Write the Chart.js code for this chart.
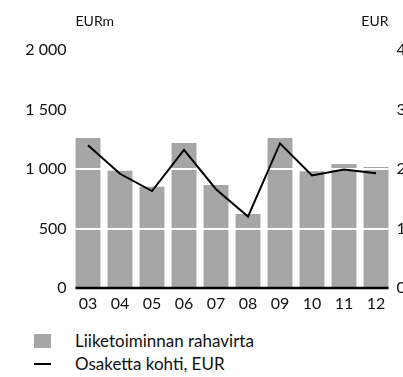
<!DOCTYPE html>
<html lang="fi">
<head>
<meta charset="utf-8">
<script src="https://cdn.jsdelivr.net/npm/chart.js@4/dist/chart.umd.min.js"></script>
<style>
  html, body { margin: 0; padding: 0; background: #fff; overflow: hidden; }
  body { width: 403px; height: 377px; position: relative; font-family: Lato, sans-serif; }
  #wrap { position: absolute; left: 0; top: 0; width: 412px; height: 318px; }
  .legend { position: absolute; left: 34px; top: 329px; font-size: 17px; color: #111; }
  .legend-row { display: flex; align-items: center; height: 23px; }
  .legend-key { width: 17px; margin-right: 24px; }
  .legend-key.box { height: 14px; background: #a6a6a6; }
  .legend-key.line { height: 2px; background: #000; }
</style>
</head>
<body>
<div id="wrap"><canvas id="chart"></canvas></div>
<div class="legend" id="legend"></div>
<script>
// Cash flow from operations (EURm) and per-share figure (EUR), 2003-2012
const years = ['03', '04', '05', '06', '07', '08', '09', '10', '11', '12'];
const cashFlow = [1260, 985, 850, 1218, 866, 622, 1260, 981, 1042, 1017];
const perShare = [2.40, 1.92, 1.63, 2.32, 1.66, 1.20, 2.43, 1.89, 1.99, 1.93];
const leftTicks = [0, 500, 1000, 1500, 2000];
const rightTicks = [0, 1, 2, 3, 4];
const seriesNames = ['Liiketoiminnan rahavirta', 'Osaketta kohti, EUR'];

const BAR_GREY = '#a6a6a6';
const FONT = 'Lato, sans-serif';

function fmtThousands(v) {
  return String(v).replace(/\B(?=(\d{3})+(?!\d))/g, ' ');
}

// outer edges of the first and last bar, so the baseline is flush with them
function barSpan(chart) {
  const bars = chart.getDatasetMeta(1).data;
  const first = bars[0], last = bars[bars.length - 1];
  return [first.x - first.width / 2, last.x + last.width / 2];
}

// white gridlines go over the bars but under the line
const gridOverBars = {
  id: 'gridOverBars',
  beforeDatasetDraw(chart, args) {
    if (args.meta.type !== 'line') return;
    const { ctx } = chart;
    const y = chart.scales.y;
    const [x0, x1] = barSpan(chart);
    ctx.save();
    ctx.strokeStyle = '#fff';
    ctx.lineWidth = 2;
    leftTicks.forEach(v => {
      if (v === 0) return;
      const py = Math.round(y.getPixelForValue(v));
      ctx.beginPath();
      ctx.moveTo(x0, py);
      ctx.lineTo(x1, py);
      ctx.stroke();
    });
    // black baseline
    const by = y.getPixelForValue(0);
    ctx.strokeStyle = '#000';
    ctx.lineWidth = 2.5;
    ctx.beginPath();
    ctx.moveTo(x0, by);
    ctx.lineTo(x1, by);
    ctx.stroke();
    ctx.restore();
  }
};

// unit captions above both axes
const unitLabels = {
  id: 'unitLabels',
  afterDraw(chart) {
    const { ctx } = chart;
    const [x0, x1] = barSpan(chart);
    ctx.save();
    ctx.font = '14px ' + FONT;
    ctx.fillStyle = '#111';
    ctx.textBaseline = 'middle';
    ctx.textAlign = 'left';
    ctx.fillText('EURm', x0, 21);
    ctx.textAlign = 'right';
    ctx.fillText('EUR', x1, 21);
    ctx.restore();
  }
};

new Chart(document.getElementById('chart'), {
  data: {
    labels: years,
    datasets: [
      {
        type: 'line',
        label: seriesNames[1],
        data: perShare,
        yAxisID: 'y1',
        borderColor: '#000',
        borderWidth: 2,
        pointRadius: 0,
        tension: 0,
        order: 0
      },
      {
        type: 'bar',
        label: seriesNames[0],
        data: cashFlow,
        yAxisID: 'y',
        backgroundColor: BAR_GREY,
        categoryPercentage: 1,
        barPercentage: 0.78,
        order: 1
      }
    ]
  },
  options: {
    responsive: true,
    maintainAspectRatio: false,
    animation: false,
    layout: { padding: { top: 50, left: 0, right: 0, bottom: 0 } },
    plugins: {
      legend: { display: false },
      tooltip: { enabled: false }
    },
    scales: {
      x: {
        grid: { display: false, drawTicks: false },
        border: { display: false },
        ticks: { color: '#111', font: { family: FONT, size: 16 }, padding: 6, maxRotation: 0 },
        afterFit(scale) { scale.height = 30; }
      },
      y: {
        position: 'left',
        min: 0,
        max: 2000,
        afterBuildTicks(scale) { scale.ticks = leftTicks.map(v => ({ value: v })); },
        grid: { display: false, drawTicks: false },
        border: { display: false },
        ticks: {
          color: '#111',
          font: { family: FONT, size: 16 },
          padding: 5.5,
          callback: v => fmtThousands(v)
        },
        afterFit(scale) { scale.width = 72; }
      },
      y1: {
        position: 'right',
        min: 0,
        max: 4,
        afterBuildTicks(scale) { scale.ticks = rightTicks.map(v => ({ value: v })); },
        grid: { display: false, drawTicks: false },
        border: { display: false },
        ticks: { color: '#111', font: { family: FONT, size: 16 }, padding: 4.5 },
        afterFit(scale) { scale.width = 20; }
      }
    }
  },
  plugins: [gridOverBars, unitLabels]
});

// legend below the chart
document.getElementById('legend').innerHTML = `
  <div class="legend-row"><span class="legend-key box"></span>${seriesNames[0]}</div>
  <div class="legend-row"><span class="legend-key line"></span>${seriesNames[1]}</div>
`;
</script>
</body>
</html>
